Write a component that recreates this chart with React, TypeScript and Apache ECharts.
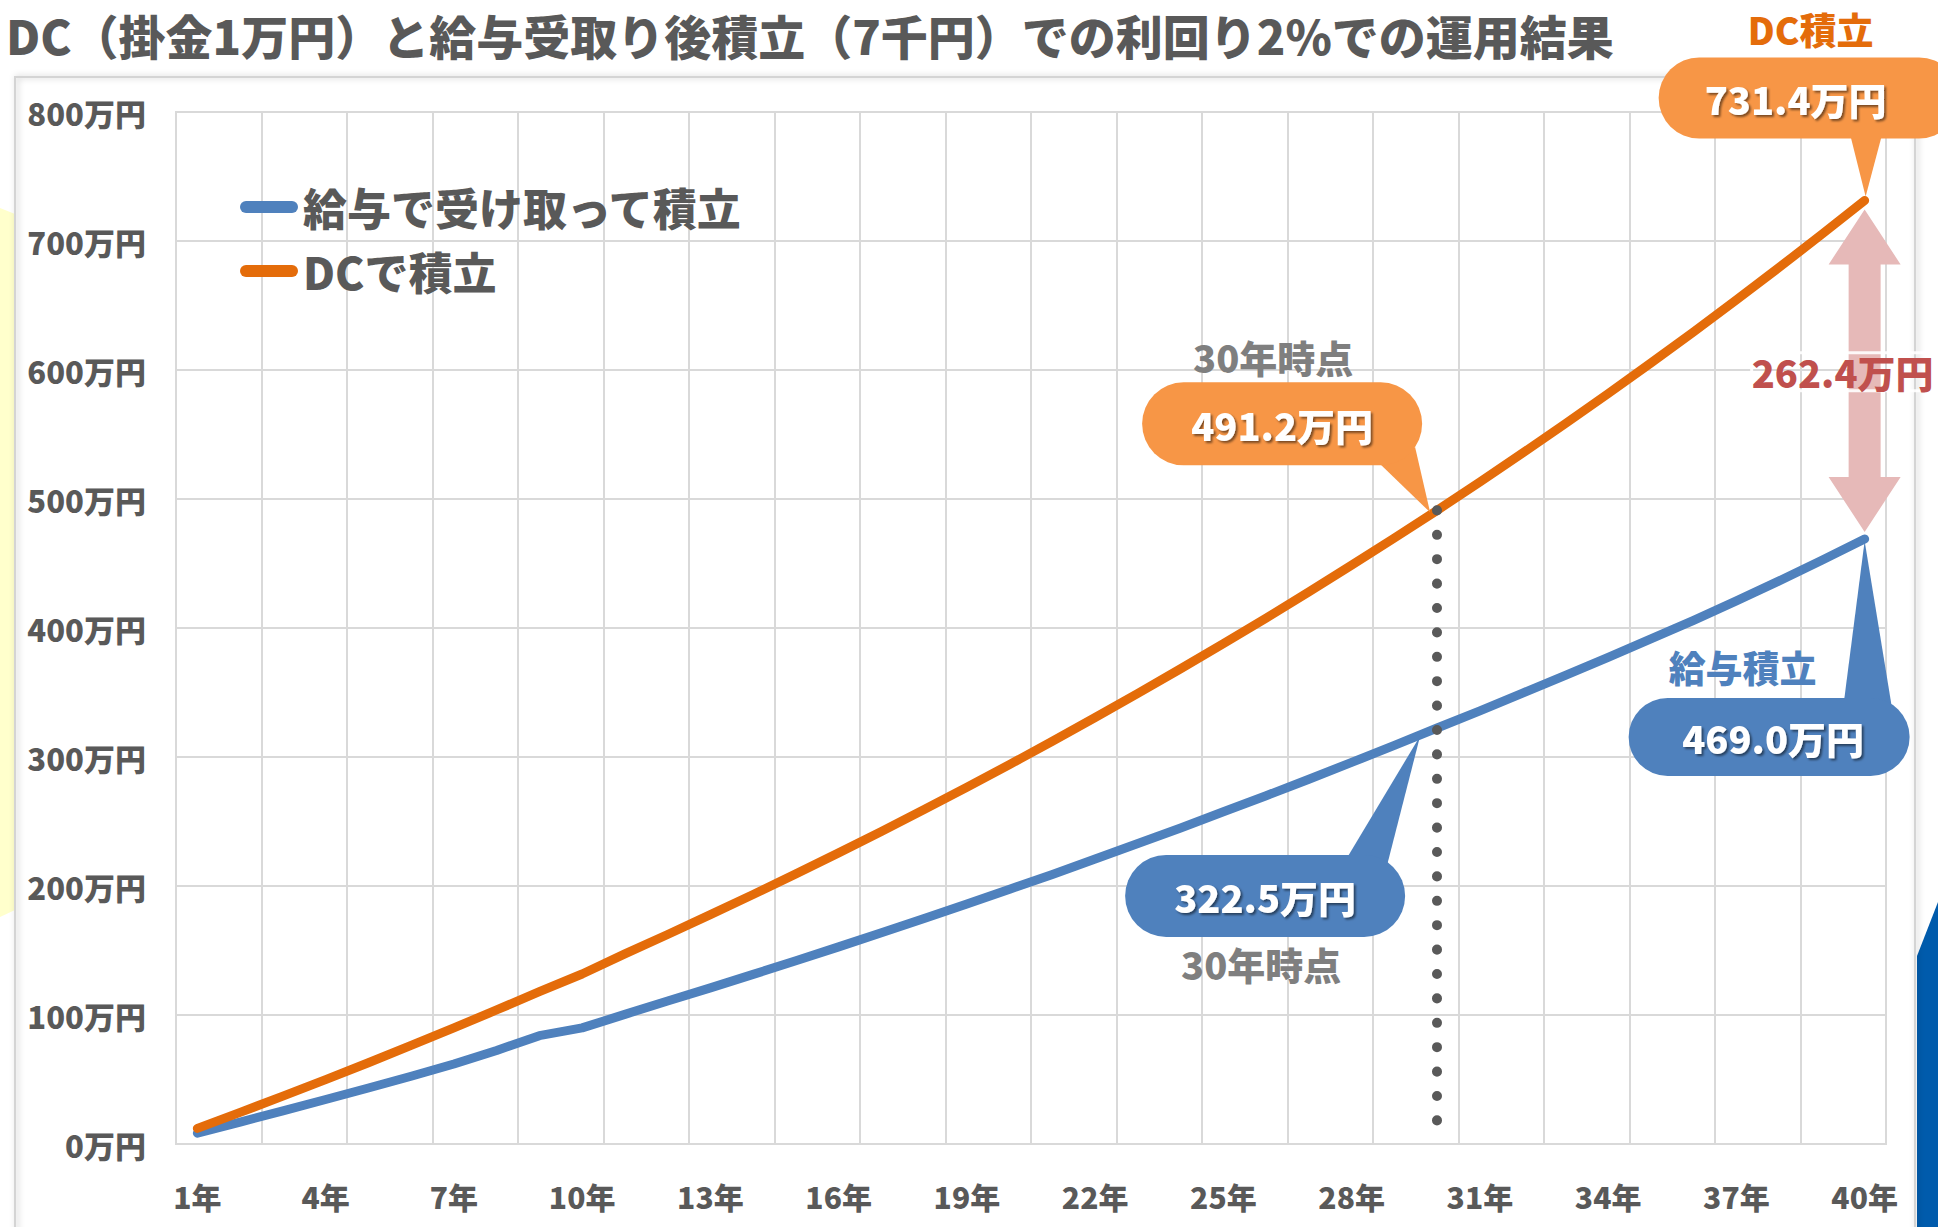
import React, { useEffect, useRef } from 'react';
import * as echarts from 'echarts';

const years = [
  '1年', '2年', '3年', '4年', '5年', '6年', '7年', '8年', '9年', '10年',
  '11年', '12年', '13年', '14年', '15年', '16年', '17年', '18年', '19年', '20年',
  '21年', '22年', '23年', '24年', '25年', '26年', '27年', '28年', '29年', '30年',
  '31年', '32年', '33年', '34年', '35年', '36年', '37年', '38年', '39年', '40年',
];

// 給与で受け取って積立 (万円)
const salaryValues = [
  8.4, 17.0, 25.7, 34.5, 43.4, 52.5, 62.0, 72.5, 84.0, 90.0,
  100.5, 110.8, 121.0, 131.5, 142.0, 152.8, 163.7, 174.8, 186.0, 197.5,
  209.0, 221.0, 233.0, 245.0, 257.5, 270.0, 282.8, 295.8, 309.0, 322.5,
  335.8, 349.5, 363.3, 377.3, 391.5, 406.0, 421.0, 436.5, 452.5, 469.0,
];

// DCで積立 (万円)
const dcValues = [
  12.1, 24.5, 37.1, 49.9, 63.0, 76.4, 90.0, 103.9, 118.1, 131.8,
  147.4, 162.4, 177.8, 193.4, 209.4, 225.7, 242.3, 259.3, 276.6, 294.2,
  312.2, 330.6, 349.3, 368.4, 387.9, 407.7, 428.0, 448.7, 469.8, 491.2,
  513.2, 535.6, 558.4, 581.7, 605.4, 629.6, 654.3, 679.5, 705.2, 731.4,
];

const seriesNames = ['給与で受け取って積立', 'DCで積立'];
const yMin = 0;
const yMax = 800;
const yStep = 100;

const titleText = 'DC（掛金1万円）と給与受取り後積立（7千円）での利回り2%での運用結果';
const pointYear = '30年';
const lastYear = '40年';
const dcAt30 = 491.2;
const salaryAt30 = 322.5;
const dcAt40 = 731.4;
const salaryAt40 = 469.0;
const gapAt40 = 262.4;
const dottedBottom = 0;

const FONT = '"Noto Sans CJK JP", "Noto Sans", sans-serif';
const W = 900;
const GRAY = '#595959';
const BLUE = '#4F81BD';
const ORANGE = '#E46C0A';
const PILL_ORANGE = '#F79646';
const GRID = '#d9d9d9';

function fmt(v: number) {
  return v.toFixed(1) + '万円';
}

function pill(x0: number, y0: number, x1: number, y1: number, color: string) {
  return {
    type: 'rect',
    z: 100,
    shape: { x: x0, y: y0, width: x1 - x0, height: y1 - y0, r: (y1 - y0) / 2 },
    style: { fill: color },
  };
}

function tail(points: number[][], color: string) {
  return { type: 'polygon', z: 100, shape: { points }, style: { fill: color } };
}

function txt(text: string, x: number, y: number, size: number, color: string, extra: any = {}) {
  return {
    type: 'text',
    z: 110,
    x,
    y,
    style: {
      text,
      fill: color,
      fontSize: size,
      fontWeight: W,
      fontFamily: FONT,
      align: 'center',
      verticalAlign: 'middle',
      lineHeight: size,
      ...extra,
    },
  };
}

const pillTextStyle = {
  textShadowColor: 'rgba(0,0,0,0.5)',
  textShadowOffsetX: 2,
  textShadowOffsetY: 2,
  textShadowBlur: 2,
};

function buildOption() {
  return {
    animation: false,
    backgroundColor: '#ffffff',
    grid: {
      left: 176,
      right: 52,
      top: 112,
      bottom: 83,
      show: true,
      borderColor: GRID,
      borderWidth: 2,
      backgroundColor: 'transparent',
    },
    legend: {
      data: seriesNames,
      orient: 'vertical',
      left: 235,
      top: 177,
      itemWidth: 58,
      itemHeight: 12,
      itemGap: 14,
      selectedMode: false,
      icon: 'path://M6 0H52A6 6 0 0 1 52 12H6A6 6 0 0 1 6 0Z',
      textStyle: {
        fontSize: 44,
        fontWeight: W,
        color: GRAY,
        fontFamily: FONT,
        lineHeight: 50,
      },
    },
    xAxis: {
      type: 'category',
      data: years,
      boundaryGap: true,
      axisLine: { show: false },
      axisTick: { show: false, interval: 1 },
      axisLabel: {
        interval: 2,
        fontSize: 30,
        fontWeight: W,
        color: GRAY,
        fontFamily: FONT,
        margin: 37,
      },
      splitLine: { show: true, interval: 1, lineStyle: { color: GRID, width: 2 } },
    },
    yAxis: {
      type: 'value',
      min: yMin,
      max: yMax,
      interval: yStep,
      axisLine: { show: false },
      axisTick: { show: false },
      axisLabel: {
        formatter: '{value}万円',
        fontSize: 31,
        fontWeight: W,
        color: GRAY,
        fontFamily: FONT,
        margin: 30,
      },
      splitLine: { lineStyle: { color: GRID, width: 2 } },
    },
    series: [
      {
        name: seriesNames[0],
        type: 'line',
        data: salaryValues,
        symbol: 'none',
        z: 3,
        itemStyle: { color: BLUE },
        lineStyle: { color: BLUE, width: 9, cap: 'round', join: 'round' },
        emphasis: { disabled: true },
      },
      {
        name: seriesNames[1],
        type: 'line',
        data: dcValues,
        symbol: 'none',
        z: 4,
        itemStyle: { color: ORANGE },
        lineStyle: { color: ORANGE, width: 9, cap: 'round', join: 'round' },
        emphasis: { disabled: true },
        markLine: {
          silent: true,
          symbol: ['none', 'none'],
          label: { show: false },
          z: 5,
          lineStyle: { color: GRAY, width: 10, type: [0.1, 24.3], cap: 'round' },
          data: [[{ coord: [pointYear, dcAt30] }, { coord: [pointYear, dottedBottom] }]],
        },
      },
    ],
  };
}

export default function App() {
  const ref = useRef<HTMLDivElement>(null);

  useEffect(() => {
    const chart = echarts.init(ref.current!, null, { renderer: 'svg' });
    chart.setOption(buildOption() as any);

    const i30 = years.indexOf(pointYear);
    const i40 = years.indexOf(lastYear);
    const p = (i: number, v: number) => chart.convertToPixel({ gridIndex: 0 }, [i, v]) as number[];
    const A = p(i30, dcAt30);
    const B = p(i30, salaryAt30);
    const C = p(i40, dcAt40);
    const D = p(i40, salaryAt40);

    const graphics: any[] = [];

    // background decorations
    graphics.push({
      type: 'polygon',
      z: -1,
      shape: { points: [[0, 208], [15, 214], [15, 910], [0, 917]] },
      style: { fill: '#FFFFCC' },
    });
    graphics.push({
      type: 'polygon',
      z: -1,
      shape: { points: [[1917, 956], [1938, 902], [1938, 1227], [1917, 1227]] },
      style: { fill: '#005BAC' },
    });
    graphics.push({
      type: 'rect',
      z: -1,
      shape: { x: 15, y: 77, width: 1900, height: 1200 },
      style: {
        fill: 'none',
        stroke: '#d4d4d4',
        lineWidth: 2,
        shadowBlur: 6,
        shadowColor: 'rgba(0,0,0,0.25)',
        shadowOffsetX: 2,
      },
    });

    // title
    graphics.push(txt(titleText, 6, 34, 47, GRAY, { align: 'left' }));

    // 30年 DC callout
    {
      const x0 = A[0] - 295, x1 = A[0] - 15, y0 = A[1] - 128, y1 = A[1] - 45;
      graphics.push(tail([[A[0] - 62, y1 - 6], [A[0] - 22, y1 - 18], [A[0] - 7, A[1] + 2]], PILL_ORANGE));
      graphics.push(pill(x0, y0, x1, y1, PILL_ORANGE));
      graphics.push(txt(fmt(dcAt30), (x0 + x1) / 2, (y0 + y1) / 2 + 1, 38, '#ffffff', pillTextStyle));
      graphics.push(txt(pointYear + '時点', (x0 + x1) / 2 - 9, y0 - 26, 38, '#7F7F7F'));
    }

    // 30年 salary callout
    {
      const x0 = B[0] - 312, x1 = B[0] - 32, y0 = B[1] + 127, y1 = B[1] + 209;
      graphics.push(tail([[B[0] - 92, y0 + 6], [B[0] - 50, y0 + 10], [B[0] - 17, B[1] + 8]], BLUE));
      graphics.push(pill(x0, y0, x1, y1, BLUE));
      graphics.push(txt(fmt(salaryAt30), (x0 + x1) / 2, (y0 + y1) / 2 + 1, 38, '#ffffff', pillTextStyle));
      graphics.push(txt(pointYear + '時点', (x0 + x1) / 2 - 4, y1 + 27, 38, '#7F7F7F'));
    }

    // 40年 DC callout
    {
      const x0 = C[0] - 206, x1 = C[0] + 95, y0 = C[1] - 143, y1 = C[1] - 62;
      graphics.push(tail([[C[0] - 15, y1 - 6], [C[0] + 18, y1 - 6], [C[0] + 1, C[1] - 4]], PILL_ORANGE));
      graphics.push(pill(x0, y0, x1, y1, PILL_ORANGE));
      graphics.push(txt(fmt(dcAt40), C[0] - 69, (y0 + y1) / 2 + 1, 38, '#ffffff', pillTextStyle));
      graphics.push(txt('DC積立', C[0] - 54, 29, 37, ORANGE));
    }

    // 40年 salary callout
    {
      const x0 = D[0] - 236, x1 = D[0] + 45, y0 = D[1] + 159, y1 = D[1] + 237;
      graphics.push(tail([[D[0] - 21, y0 + 6], [D[0] + 28, y0 + 14], [D[0], D[1] + 2]], BLUE));
      graphics.push(pill(x0, y0, x1, y1, BLUE));
      graphics.push(txt(fmt(salaryAt40), (x0 + x1) / 2 + 4, (y0 + y1) / 2 + 1, 38, '#ffffff', pillTextStyle));
      graphics.push(txt('給与積立', D[0] - 122, D[1] + 128, 37, BLUE));
    }

    // double arrow for gap
    {
      const x = C[0];
      const yt = C[1] + 9;
      const yb = D[1] - 7;
      const hw = 36, sw = 16, hh = 55;
      graphics.push({
        type: 'polygon',
        z: 90,
        shape: {
          points: [
            [x, yt], [x + hw, yt + hh], [x + sw, yt + hh], [x + sw, yb - hh], [x + hw, yb - hh],
            [x, yb], [x - hw, yb - hh], [x - sw, yb - hh], [x - sw, yt + hh], [x - hw, yt + hh],
          ],
        },
        style: { fill: '#E6B9B8' },
      });
      graphics.push(txt(fmt(gapAt40), x - 22, (C[1] + D[1]) / 2 + 2, 38, '#C0504D', {
        textBorderColor: 'rgba(255,255,255,0.9)',
        textBorderWidth: 3,
      }));
    }

    chart.setOption({ graphic: graphics } as any);

    return () => chart.dispose();
  }, []);

  return (
    <div
      ref={ref}
      style={{ position: 'fixed', left: 0, top: 0, width: 1938, height: 1227, background: '#fff' }}
    />
  );
}
